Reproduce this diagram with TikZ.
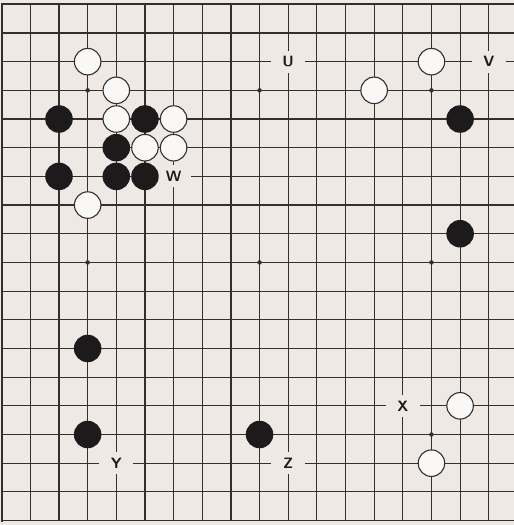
\documentclass[tikz,border=0pt]{standalone}
\definecolor{paper}{RGB}{239,233,229}
\definecolor{gridc}{RGB}{52,47,47}
\definecolor{stoneb}{RGB}{28,26,26}
\definecolor{stonew}{RGB}{250,248,246}
\begin{document}
\begin{tikzpicture}[x=28.65pt,y=28.68pt,
  gridline/.style={gridc,line width=1.2pt},
  edgeline/.style={gridc,line width=2pt,line cap=rect},
  bstone/.style={circle,fill=stoneb,minimum size=27.5pt,inner sep=0pt},
  wstone/.style={circle,draw=gridc,line width=1.1pt,fill=stonew,minimum size=26.5pt,inner sep=0pt},
  lbl/.style={fill=paper,minimum width=34pt,minimum height=22pt,inner sep=0pt,
    font=\sffamily\bfseries\fontsize{15}{15}\selectfont,text=stoneb},
  hoshi/.style={circle,fill=gridc,minimum size=4.5pt,inner sep=0pt}]
\fill[paper] (-1.7pt,4.3pt) rectangle (512.3pt,-520.7pt);
\useasboundingbox (-1.7pt,4.3pt) rectangle (512.3pt,-520.7pt);
% grid
\draw[gridline,step=1] (0,-18) grid (17.88,0);
\draw[edgeline] (0,-18) -- (0,0) -- (17.85,0);
% star points
\node[hoshi] (h1) at (3,-3) {};
\node[hoshi] (h2) at (9,-3) {};
\node[hoshi] (h3) at (15,-3) {};
\node[hoshi] (h4) at (3,-9) {};
\node[hoshi] (h5) at (9,-9) {};
\node[hoshi] (h6) at (15,-9) {};
\node[hoshi] (h9) at (15,-15) {};
% labels
\node[lbl] (U) at (10,-2) {U};
\node[lbl] (V) at (17,-2) {V};
\node[lbl] (W) at (6,-6) {W};
\node[lbl] (X) at (14,-14) {X};
\node[lbl] (Y) at (4,-16) {Y};
\node[lbl] (Z) at (10,-16) {Z};
% white stones
\node[wstone] (w1) at (3,-2) {};
\node[wstone] (w2) at (4,-3) {};
\node[wstone] (w3) at (4,-4) {};
\node[wstone] (w4) at (6,-4) {};
\node[wstone] (w5) at (5,-5) {};
\node[wstone] (w6) at (6,-5) {};
\node[wstone] (w7) at (3,-7) {};
\node[wstone] (w8) at (15,-2) {};
\node[wstone] (w9) at (13,-3) {};
\node[wstone] (w10) at (16,-14) {};
\node[wstone] (w11) at (15,-16) {};
% black stones
\node[bstone] (b1) at (2,-4) {};
\node[bstone] (b2) at (5,-4) {};
\node[bstone] (b3) at (4,-5) {};
\node[bstone] (b4) at (2,-6) {};
\node[bstone] (b5) at (4,-6) {};
\node[bstone] (b6) at (5,-6) {};
\node[bstone] (b7) at (16,-4) {};
\node[bstone] (b8) at (16,-8) {};
\node[bstone] (b9) at (3,-12) {};
\node[bstone] (b10) at (3,-15) {};
\node[bstone] (b11) at (9,-15) {};
\end{tikzpicture}
\end{document}
